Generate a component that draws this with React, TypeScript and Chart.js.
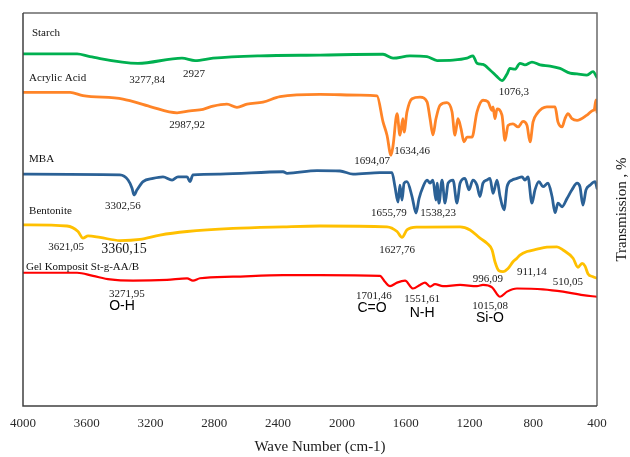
import React, { useEffect, useRef } from "react";
import { Chart, registerables } from "chart.js";

Chart.register(...registerables);

// Wavenumber ticks (cm-1)
const xTicks = [4000, 3600, 3200, 2800, 2400, 2000, 1600, 1200, 800, 400];

// Spectra: [wavenumber, transmission (arbitrary, offset per curve)]
const starch: [number, number][] = [
  [4000, 89.6], [3661, 89.6], [3580, 88.9], [3279, 87.2], [3003, 88.5], [2921, 87.9],
  [2808, 88.5], [2514, 89.1], [2137, 89.3], [1742, 89.5], [1679, 88.5], [1573, 89.1],
  [1466, 88.9], [1403, 87.9], [1303, 88.0], [1215, 88.5], [1178, 89.1], [1153, 87.2],
  [1115, 86.9], [1071, 85.5], [1027, 83.8], [996, 82.8], [964, 84.5], [946, 85.9],
  [914, 85.7], [883, 87.2], [852, 86.8], [808, 87.5], [757, 86.8], [695, 86.5],
  [632, 85.9], [569, 84.7], [525, 84.5], [463, 84.2], [425, 85.1], [400, 83.6],
];

const acrylicAcid: [number, number][] = [
  [4000, 79.8], [3705, 79.8], [3624, 79.0], [3373, 78.1], [3203, 76.2], [3034, 74.6],
  [2953, 75.1], [2871, 75.5], [2808, 76.3], [2721, 76.8], [2658, 76.0], [2595, 76.8],
  [2495, 77.3], [2388, 78.7], [2137, 79.3], [1886, 79.1], [1780, 78.9], [1742, 72.3],
  [1717, 68.9], [1692, 63.8], [1679, 66.3], [1654, 74.4], [1636, 68.9], [1617, 73.1],
  [1610, 69.7], [1592, 74.8], [1560, 78.2], [1510, 78.6], [1466, 77.4], [1447, 73.1],
  [1429, 69.0], [1410, 73.1], [1385, 76.5], [1341, 77.2], [1309, 74.8], [1291, 68.9],
  [1272, 73.1], [1253, 70.6], [1234, 67.2], [1215, 68.4], [1184, 68.4], [1153, 74.8],
  [1115, 77.8], [1084, 77.4], [1058, 75.2], [1052, 76.1], [1040, 73.1], [1027, 75.6],
  [996, 74.0], [977, 67.6], [958, 71.4], [927, 71.8], [895, 71.0], [864, 72.4],
  [839, 71.4], [820, 67.2], [801, 72.3], [776, 74.4], [714, 76.1], [663, 76.1],
  [645, 72.3], [619, 71.0], [601, 73.1], [582, 74.4], [557, 73.1], [525, 72.7],
  [463, 74.0], [425, 75.2], [418, 75.3], [406, 77.9], [400, 74.8],
];

const mba: [number, number][] = [
  [4000, 59.0], [3392, 58.8], [3341, 57.5], [3316, 55.4], [3304, 53.7], [3285, 55.0],
  [3247, 57.1], [3185, 57.9], [3122, 58.3], [3065, 57.5], [3028, 58.3], [2971, 58.3],
  [2953, 57.1], [2934, 58.8], [2764, 59.0], [2369, 59.6], [2344, 59.2], [2156, 59.9],
  [2012, 59.8], [1930, 59.0], [1761, 59.4], [1686, 59.4], [1667, 55.8], [1648, 51.9],
  [1636, 56.2], [1623, 52.4], [1610, 56.7], [1592, 57.1], [1560, 53.3], [1535, 49.1],
  [1516, 52.8], [1491, 55.8], [1466, 57.5], [1447, 56.7], [1429, 57.5], [1410, 52.4],
  [1403, 56.7], [1391, 51.6], [1372, 57.5], [1353, 51.6], [1334, 56.7], [1303, 57.5],
  [1278, 51.6], [1259, 56.7], [1228, 57.9], [1203, 55.0], [1178, 57.5], [1153, 56.2],
  [1134, 53.3], [1115, 56.7], [1090, 57.5], [1071, 57.9], [1052, 54.1], [1027, 57.5],
  [1008, 53.3], [983, 49.9], [964, 55.8], [933, 57.5], [902, 57.9], [870, 58.3],
  [852, 57.5], [833, 58.3], [808, 51.6], [789, 55.0], [764, 57.1], [739, 55.8],
  [707, 56.7], [682, 53.3], [663, 49.2], [645, 51.6], [619, 50.7], [588, 52.8],
  [557, 55.0], [525, 56.7], [507, 55.8], [488, 51.1], [469, 55.0], [444, 56.2],
  [412, 57.1], [400, 55.4],
];

const bentonite: [number, number][] = [
  [4000, 46.1], [3724, 45.8], [3655, 44.4], [3624, 42.7], [3592, 43.3], [3517, 42.9],
  [3392, 42.1], [3266, 42.4], [3141, 43.5], [2971, 44.4], [2683, 45.2], [2369, 45.6],
  [2137, 45.8], [1717, 45.6], [1654, 44.4], [1623, 42.9], [1592, 44.8], [1529, 45.5],
  [1259, 45.6], [1196, 44.8], [1134, 42.7], [1090, 41.4], [1058, 39.7], [1040, 36.7],
  [1015, 34.4], [990, 34.2], [958, 35.0], [927, 36.7], [902, 37.6], [883, 38.4],
  [839, 39.3], [776, 39.9], [714, 40.4], [651, 40.5], [613, 39.7], [550, 37.6],
  [519, 35.3], [494, 36.3], [475, 35.6], [456, 33.6], [425, 32.9], [400, 32.5],
];

const gelKomposit: [number, number][] = [
  [4000, 33.9], [3661, 33.9], [3561, 33.1], [3454, 32.2], [3310, 31.9], [3097, 32.1],
  [2971, 32.5], [2934, 31.9], [2890, 32.5], [2683, 32.9], [2369, 33.3], [2137, 33.3],
  [1761, 33.1], [1730, 31.6], [1698, 30.5], [1654, 31.4], [1604, 31.9], [1554, 29.9],
  [1510, 30.8], [1479, 31.4], [1447, 30.4], [1416, 31.0], [1366, 30.5], [1259, 30.8],
  [1153, 30.5], [1115, 30.8], [1058, 30.2], [1008, 27.8], [964, 29.1], [902, 29.9],
  [739, 29.7], [613, 29.1], [488, 28.2], [400, 27.8],
];

const seriesNames = ["Starch", "Acrylic Acid", "MBA", "Bentonite", "Gel Komposit St-g-AA/B"];
const seriesColors = ["#00B050", "#FF8427", "#2B6196", "#FFC000", "#FF0000"];
const seriesWidths = [2.8, 2.8, 2.8, 2.8, 2.2];
const seriesData = [starch, acrylicAcid, mba, bentonite, gelKomposit];

// Curve name labels: [text, wavenumber, value] (left aligned)
const nameLabels: [string, number, number][] = [
  ["Starch", 3944, 94.9],
  ["Acrylic Acid", 3962, 83.5],
  ["MBA", 3962, 62.8],
  ["Bentonite", 3962, 49.6],
  ["Gel Komposit St-g-AA/B", 3981, 35.4],
];

// Peak labels: [text, wavenumber, value] (centered)
const peakLabels: [string, number, number][] = [
  ["3277,84", 3222, 83.0],
  ["2927", 2928, 84.5],
  ["1076,3", 921, 79.9],
  ["2987,92", 2971, 71.5],
  ["1694,07", 1811, 62.3],
  ["1634,46", 1560, 64.9],
  ["3302,56", 3373, 50.9],
  ["1655,79", 1705, 49.1],
  ["1538,23", 1397, 49.1],
  ["3621,05", 3730, 40.5],
  ["1627,76", 1654, 39.7],
  ["996,09", 1084, 32.3],
  ["911,14", 808, 34.1],
  ["510,05", 582, 31.6],
  ["3271,95", 3348, 28.5],
  ["1701,46", 1799, 28.0],
  ["1551,61", 1497, 27.2],
  ["1015,08", 1071, 25.4],
];
const bigPeakLabels: [string, number, number][] = [["3360,15", 3367, 39.9]];

// Functional group labels
const bondLabels: [string, number, number][] = [
  ["O-H", 3379, 25.4],
  ["C=O", 1811, 24.9],
  ["N-H", 1497, 23.7],
  ["Si-O", 1071, 22.4],
];

const xTitle = "Wave Number (cm-1)";
const yTitle = "Transmission , %";

const serif = "'Liberation Serif', 'Times New Roman', serif";
const sans = "'Liberation Sans', Arial, sans-serif";

const overlayPlugin = {
  id: "overlay",
  afterDraw(chart: any) {
    const { ctx, chartArea: a, scales } = chart;
    const xs = scales.x;
    const ys = scales.y;
    ctx.save();
    // frame
    ctx.lineWidth = 1.5;
    ctx.strokeStyle = "#6a6a6a";
    ctx.beginPath();
    ctx.moveTo(a.left, a.top);
    ctx.lineTo(a.right, a.top);
    ctx.lineTo(a.right, a.bottom);
    ctx.stroke();
    ctx.strokeStyle = "#404040";
    ctx.beginPath();
    ctx.moveTo(a.left, a.top);
    ctx.lineTo(a.left, a.bottom);
    ctx.lineTo(a.right, a.bottom);
    ctx.stroke();

    ctx.fillStyle = "#111";
    ctx.textBaseline = "middle";
    ctx.font = `11px ${serif}`;
    ctx.textAlign = "left";
    nameLabels.forEach(([t, w, v]) => {
      ctx.fillText(t, xs.getPixelForValue(w), ys.getPixelForValue(v));
    });
    ctx.fillStyle = "#1a1a1a";
    ctx.textAlign = "center";
    peakLabels.forEach(([t, w, v]) => {
      ctx.fillText(t, xs.getPixelForValue(w), ys.getPixelForValue(v));
    });
    ctx.font = `14px ${serif}`;
    bigPeakLabels.forEach(([t, w, v]) => {
      ctx.fillText(t, xs.getPixelForValue(w), ys.getPixelForValue(v));
    });
    ctx.fillStyle = "#000";
    ctx.font = `14px ${sans}`;
    bondLabels.forEach(([t, w, v]) => {
      ctx.fillText(t, xs.getPixelForValue(w), ys.getPixelForValue(v));
    });

    // axis titles
    ctx.fillStyle = "#1a1a1a";
    ctx.font = `15px ${serif}`;
    ctx.fillText(xTitle, (a.left + a.right) / 2 + 10, chart.height - 10);
    ctx.translate(chart.width - 8, (a.top + a.bottom) / 2);
    ctx.rotate(-Math.PI / 2);
    ctx.fillText(yTitle, 0, 0);
    ctx.restore();
  },
};

export default function App() {
  const ref = useRef<HTMLCanvasElement | null>(null);
  useEffect(() => {
    if (!ref.current) return;
    const chart = new Chart(ref.current, {
      type: "line",
      data: {
        datasets: seriesData.map((d, i) => ({
          label: seriesNames[i],
          data: d.map(([x, y]) => ({ x, y })),
          borderColor: seriesColors[i],
          borderWidth: seriesWidths[i],
          pointRadius: 0,
          fill: false,
          cubicInterpolationMode: "monotone" as const,
          borderJoinStyle: "round" as const,
          borderCapStyle: "round" as const,
        })),
      },
      options: {
        responsive: false,
        animation: false,
        events: [],
        layout: { padding: { left: 23, right: 33, top: 13, bottom: 0 } },
        plugins: { legend: { display: false }, tooltip: { enabled: false } },
        scales: {
          x: {
            type: "linear",
            reverse: true,
            min: 400,
            max: 4000,
            afterBuildTicks: (scale: any) => {
              scale.ticks = xTicks.map((v) => ({ value: v }));
            },
            afterFit: (scale: any) => {
              scale.height = 51;
            },
            ticks: {
              font: { family: serif, size: 13 },
              color: "#2a2a2a",
              padding: 10,
              maxRotation: 0,
              autoSkip: false,
              callback: (v: any) => String(v),
            },
            grid: { display: false, drawTicks: false },
            border: { display: false },
          },
          y: { display: false, min: 0, max: 100 },
        },
      },
      plugins: [overlayPlugin],
    });
    return () => chart.destroy();
  }, []);
  return (
    <div style={{ position: "fixed", left: 0, top: 0, width: 630, height: 457, background: "#fff" }}>
      <canvas ref={ref} width={630} height={457} style={{ display: "block" }} />
    </div>
  );
}
